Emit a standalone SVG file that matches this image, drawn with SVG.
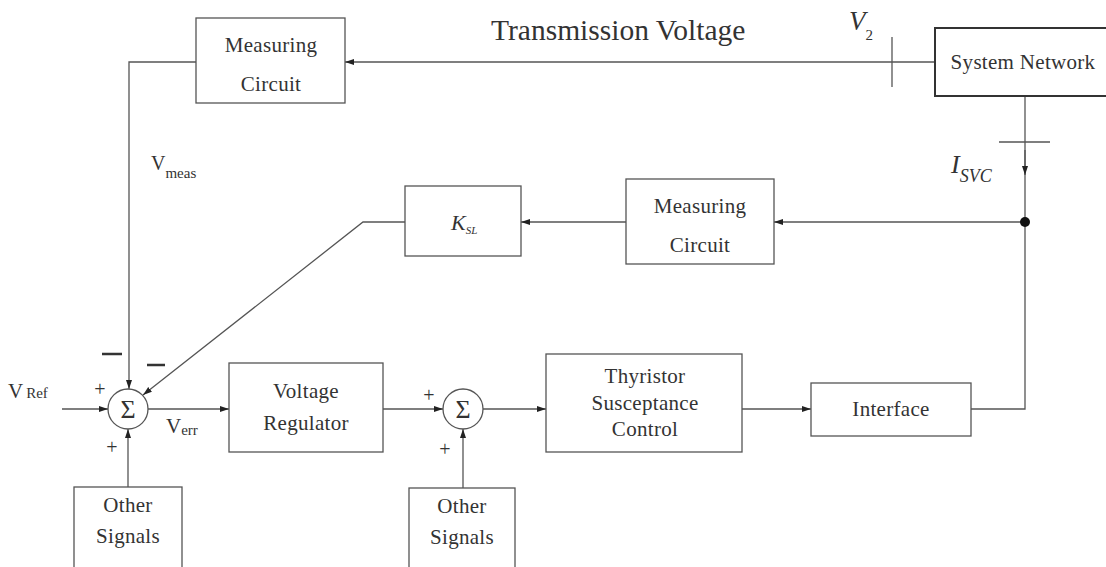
<svg xmlns="http://www.w3.org/2000/svg" width="1106" height="567" viewBox="0 0 1106 567">
<style>
.box{fill:#fff;stroke:#555;stroke-width:1.3}
.ln{fill:none;stroke:#555;stroke-width:1.3}
.t{font-family:"Liberation Serif",serif;font-size:21px;fill:#333;text-anchor:middle;letter-spacing:0.3px}
.l{font-family:"Liberation Serif",serif;fill:#333}
.sg{font-family:"Liberation Serif",serif;fill:#333;text-anchor:middle}
</style>
<defs>
<marker id="ah" markerWidth="10" markerHeight="8" refX="9" refY="4" orient="auto" markerUnits="userSpaceOnUse">
<path d="M0,1 L9,4 L0,7 Z" fill="#222"/>
</marker>
</defs>
<rect width="1106" height="567" fill="#fff"/>

<g id="connectors">
<path class="ln" d="M935,62 H345" marker-end="url(#ah)"/>
<path class="ln" d="M892,37 V87"/>
<path class="ln" d="M196,62 H129 V389" marker-end="url(#ah)"/>
<path class="ln" d="M1025,96 V222"/>
<path class="ln" d="M1025,150 V175" marker-end="url(#ah)"/>
<path class="ln" d="M999,142 H1050"/>
<path class="ln" d="M1025,222 V409 H971"/>
<path class="ln" d="M1025,222 H774" marker-end="url(#ah)"/>
<path class="ln" d="M626,222 H521" marker-end="url(#ah)"/>
<path class="ln" d="M405,222 H363 L143,395" marker-end="url(#ah)"/>
<path class="ln" d="M62,409 H108" marker-end="url(#ah)"/>
<path class="ln" d="M128,487 V429" marker-end="url(#ah)"/>
<path class="ln" d="M148,409 H229" marker-end="url(#ah)"/>
<path class="ln" d="M383,409 H443" marker-end="url(#ah)"/>
<path class="ln" d="M463,488 V429" marker-end="url(#ah)"/>
<path class="ln" d="M483,409 H546" marker-end="url(#ah)"/>
<path class="ln" d="M742,409 H811" marker-end="url(#ah)"/>
<circle cx="1025" cy="222" r="5" fill="#111"/>
</g>

<g id="measuring-circuit-top">
<rect class="box" x="196" y="18" width="149" height="85"/>
<text class="t" x="271" y="52">Measuring</text>
<text class="t" x="271" y="91">Circuit</text>
</g>

<g id="system-network">
<rect x="935" y="28" width="175" height="68" fill="#fff" stroke="#333" stroke-width="2"/>
<text class="t" x="1023" y="69">System Network</text>
</g>

<g id="measuring-circuit-2">
<rect class="box" x="626" y="179" width="148" height="85"/>
<text class="t" x="700" y="213">Measuring</text>
<text class="t" x="700" y="252">Circuit</text>
</g>

<g id="ksl">
<rect class="box" x="405" y="186" width="116" height="70"/>
<text class="l" x="451" y="230" font-size="22" font-style="italic">K<tspan font-size="11" dy="4">SL</tspan></text>
</g>

<g id="sum1">
<circle class="box" cx="128" cy="409" r="20"/>
<text class="sg" x="128" y="418" font-size="26">Σ</text>
</g>

<g id="voltage-regulator">
<rect class="box" x="229" y="363" width="154" height="89"/>
<text class="t" x="306" y="398">Voltage</text>
<text class="t" x="306" y="430">Regulator</text>
</g>

<g id="sum2">
<circle class="box" cx="463" cy="409" r="20"/>
<text class="sg" x="463" y="418" font-size="26">Σ</text>
</g>

<g id="tsc">
<rect class="box" x="546" y="354" width="196" height="98"/>
<text class="t" x="645" y="383">Thyristor</text>
<text class="t" x="645" y="410">Susceptance</text>
<text class="t" x="645" y="436">Control</text>
</g>

<g id="interface">
<rect class="box" x="811" y="383" width="160" height="53"/>
<text class="t" x="891" y="416">Interface</text>
</g>

<g id="other-signals-1">
<rect class="box" x="74" y="487" width="108" height="90"/>
<text class="t" x="128" y="512">Other</text>
<text class="t" x="128" y="543">Signals</text>
</g>

<g id="other-signals-2">
<rect class="box" x="409" y="488" width="106" height="90"/>
<text class="t" x="462" y="513">Other</text>
<text class="t" x="462" y="544">Signals</text>
</g>

<g id="labels">
<text class="l" x="491" y="40" font-size="29.5">Transmission Voltage</text>
<text class="l" x="849" y="30" font-size="27" font-style="italic">V<tspan font-size="15" font-style="normal" dy="10">2</tspan></text>
<text class="l" x="951" y="173" font-size="26" font-style="italic">I<tspan font-size="18" dy="9">SVC</tspan></text>
<text class="l" x="151" y="170" font-size="20">V<tspan font-size="15" dy="8">meas</tspan></text>
<text class="l" x="8" y="398" font-size="21">V<tspan font-size="15" dx="3" dy="0">Ref</tspan></text>
<text class="l" x="166" y="433" font-size="21">V<tspan font-size="15" dy="2">err</tspan></text>
<text class="sg" x="100" y="396" font-size="20">+</text>
<text class="sg" x="112" y="454" font-size="20">+</text>
<text class="sg" x="429" y="402" font-size="20">+</text>
<text class="sg" x="445" y="456" font-size="20">+</text>
<path d="M102,354 H122 M147,365 H165" stroke="#333" stroke-width="2.5"/>
</g>
</svg>
